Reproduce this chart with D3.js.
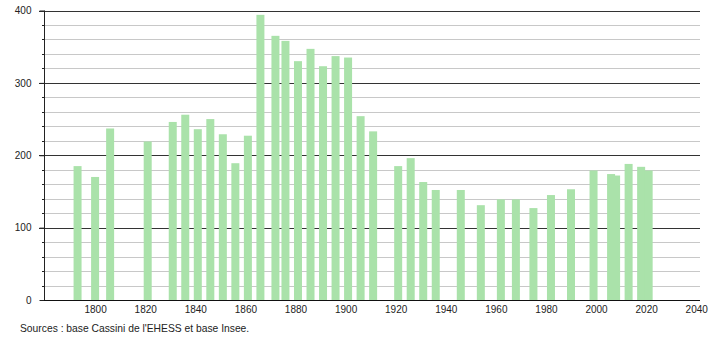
<!DOCTYPE html>
<html lang="fr">
<head>
<meta charset="utf-8">
<title>Évolution de la population</title>
<script src="https://d3js.org/d3.v7.min.js"></script>
<style>
body { margin: 0; background: #fff; }
svg text { font-family: "Liberation Sans", Arial, sans-serif; font-size: 10px; fill: #222; }
.bar { fill: #aae2aa; }
.grid-major { stroke: #333; stroke-width: 1; }
.grid-minor { stroke: #c8c8c8; stroke-width: 1; }
</style>
</head>
<body>
<script>

// census years and population
var years = [1793, 1800, 1806, 1821, 1831, 1836, 1841, 1846, 1851, 1856,
             1861, 1866, 1872, 1876, 1881, 1886, 1891, 1896, 1901, 1906,
             1911, 1921, 1926, 1931, 1936, 1946, 1954, 1962, 1968, 1975,
             1982, 1990, 1999, 2006, 2008, 2013, 2018, 2021];
var population = [185, 170, 237, 219, 246, 256, 236, 250, 229, 189,
                  227, 394, 365, 358, 330, 347, 323, 337, 335, 254,
                  233, 185, 196, 163, 152, 152, 131, 139, 139, 127,
                  145, 153, 179, 174, 172, 188, 184, 179];
var xTicks = [1800, 1820, 1840, 1860, 1880, 1900, 1920, 1940, 1960, 1980, 2000, 2020, 2040];
var yTicks = [0, 100, 200, 300, 400];
var source = "Sources : base Cassini de l'EHESS et base Insee.";

var width = 710, height = 340;
var margin = {top: 10.5, right: 10, bottom: 40, left: 44};

var svg = d3.select("body").append("svg")
    .attr("width", width)
    .attr("height", height);

var x = d3.scaleLinear()
    .domain([1779.6, 2041.5])
    .range([margin.left, width - margin.right]);

var y = d3.scaleLinear()
    .domain([0, 400])
    .range([height - margin.bottom, margin.top]);

var minor = d3.range(20, 400, 20).filter(function(v) { return v % 100 !== 0; });

// grid lines
svg.append("g").selectAll("line")
    .data(minor)
  .enter().append("line")
    .attr("class", "grid-minor")
    .attr("x1", margin.left - 2)
    .attr("x2", width - margin.right)
    .attr("y1", function(d) { return Math.round(y(d)) + 0.5; })
    .attr("y2", function(d) { return Math.round(y(d)) + 0.5; });

svg.append("g").selectAll("line")
    .data(yTicks.slice(1))
  .enter().append("line")
    .attr("class", "grid-major")
    .attr("x1", margin.left - 5)
    .attr("x2", width - margin.right)
    .attr("y1", function(d) { return Math.round(y(d)) + 0.5; })
    .attr("y2", function(d) { return Math.round(y(d)) + 0.5; });

// bars
var barW = 8;
svg.append("g").selectAll("rect")
    .data(years)
  .enter().append("rect")
    .attr("class", "bar")
    .attr("x", function(d) { return x(d) - barW / 2; })
    .attr("width", barW)
    .attr("y", function(d, i) { return y(population[i]); })
    .attr("height", function(d, i) { return y(0) - y(population[i]); });

// y axis
var yAxis = d3.axisLeft(y)
    .tickValues(yTicks)
    .tickSize(5)
    .tickPadding(8);
var gy = svg.append("g")
    .attr("transform", "translate(" + (margin.left + 0.5) + ",0)")
    .call(yAxis);
gy.selectAll("line").attr("stroke", "#222");
gy.select(".domain").attr("stroke", "#222").attr("d", "M0," + y(400) + "V" + y(0));
gy.selectAll("text").style("font-size", "10px").attr("fill", "#222");

// minor ticks on y axis
svg.append("g").selectAll("line")
    .data(minor)
  .enter().append("line")
    .attr("stroke", "#222")
    .attr("x1", margin.left - 2)
    .attr("x2", margin.left)
    .attr("y1", function(d) { return Math.round(y(d)) + 0.5; })
    .attr("y2", function(d) { return Math.round(y(d)) + 0.5; });

// x axis
var xAxis = d3.axisBottom(x)
    .tickValues(xTicks)
    .tickFormat(d3.format("d"))
    .tickSize(0)
    .tickPadding(5);
var gx = svg.append("g")
    .attr("transform", "translate(0," + (Math.round(y(0)) + 0.5) + ")")
    .call(xAxis);
gx.select(".domain").attr("stroke", "#111").attr("d", "M" + margin.left + ",0H" + (width - margin.right));
gx.selectAll("text").style("font-size", "10px").attr("fill", "#222");

// source note
svg.append("text")
    .attr("x", 20)
    .attr("y", 332)
    .style("font-size", "10.3px")
    .text(source);

</script>
</body>
</html>
